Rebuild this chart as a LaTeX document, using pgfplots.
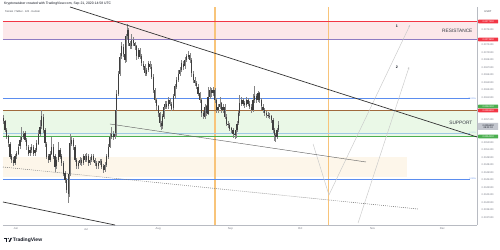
\documentclass[border=0pt]{standalone}
\usepackage{pgfplots}
\pgfplotsset{compat=1.18}
\usepackage{pgfplotstable}
\usepackage{fontspec}
\setmainfont{Liberation Sans}
\usetikzlibrary{arrows.meta}

\definecolor{tvred}{HTML}{F23645}
\definecolor{tvpurple}{HTML}{8E7CC3}
\definecolor{tvblue}{HTML}{5B8DEF}
\definecolor{tvbrown}{HTML}{A0693C}
\definecolor{tvgreen}{HTML}{4CAF50}
\definecolor{lblue}{HTML}{9FC9E6}
\definecolor{pinkband}{HTML}{FCE8EA}
\definecolor{greenband}{HTML}{EAF8E7}
\definecolor{beigeband}{HTML}{FDF6EA}
\definecolor{tvorange}{HTML}{F8C47A}
\definecolor{candle}{HTML}{3F3F3F}
\definecolor{wick}{HTML}{858585}
\definecolor{axgray}{HTML}{B8BBC2}
\definecolor{txtgray}{HTML}{787B86}
\definecolor{boxgray}{HTML}{C4C7CF}
\definecolor{projgray}{HTML}{C9C9C9}
\definecolor{dark}{HTML}{131722}

\pgfplotstableread{
d o h l c
-5.43 578 584 566 571
-4.71 571 574 549 554
-4.00 554 558 536 541
-3.29 541 545 521 527
-2.57 527 530 495 501
-1.86 501 506 488 494
-1.14 494 499 481 487
-0.43 487 506 483 501
0.29 501 512 497 507
1.00 507 526 503 521
1.71 521 540 517 534
2.43 534 560 530 541
3.14 541 552 536 547
3.86 547 551 529 534
4.57 534 538 515 521
5.29 521 525 502 507
6.00 507 520 503 514
6.71 514 526 509 521
7.43 521 525 502 507
8.14 507 519 503 514
8.86 514 533 510 527
9.57 527 553 523 547
10.29 547 575 543 561
11.00 561 594 556 581
11.71 581 586 549 554
12.43 554 558 521 527
13.14 527 531 496 501
13.86 501 505 488 494
14.57 494 512 490 507
15.29 507 540 503 521
16.00 521 525 496 501
16.71 501 505 470 481
17.43 481 499 477 494
18.14 494 530 490 514
18.86 514 518 496 501
19.57 501 505 482 487
20.29 487 492 462 467
21.00 467 472 448 454
21.71 454 458 428 434
22.43 434 440 408 427
22.71 427 472 420 467
23.14 467 547 462 527
23.86 527 540 522 534
24.57 534 538 515 521
25.29 521 524 489 494
26.00 494 498 476 481
26.71 481 492 476 487
27.43 487 500 483 494
28.14 494 498 482 487
28.86 487 506 483 501
29.57 501 505 489 494
30.29 494 507 490 501
31.00 501 505 482 487
31.71 487 499 483 494
32.43 494 506 490 501
33.14 501 505 489 494
33.86 494 498 482 487
34.57 487 491 476 481
35.29 481 492 477 487
36.00 487 496 483 491
36.71 491 495 476 481
37.43 481 485 468 474
38.14 474 489 470 484
38.86 484 506 480 501
39.57 501 526 497 521
40.29 521 547 517 541
41.00 541 560 536 547
41.71 547 552 535 541
42.43 541 553 536 547
42.86 547 600 543 594
43.14 594 633 590 627
43.86 627 673 622 667
44.57 667 707 662 701
45.29 701 730 696 721
46.00 721 725 700 707
46.71 707 712 688 694
47.14 694 746 690 741
47.71 741 766 736 754
48.14 754 758 722 727
48.86 727 732 715 721
49.57 721 745 716 734
50.29 734 740 721 727
51.00 727 731 715 721
51.71 721 725 695 701
52.43 701 719 696 714
53.14 714 718 695 701
53.86 701 705 682 687
54.57 687 692 675 681
55.29 681 685 662 667
56.00 667 679 662 674
56.71 674 692 670 687
57.43 687 691 675 681
58.14 681 685 655 661
58.86 661 665 628 634
59.57 634 638 608 614
60.29 614 618 595 601
61.00 601 605 581 587
61.71 587 591 561 567
62.43 567 572 553 561
62.86 561 586 556 581
63.43 581 606 576 601
63.86 601 613 596 607
64.57 607 611 595 601
65.29 601 620 597 614
66.00 614 618 601 607
66.71 607 611 592 597
67.43 597 626 593 621
68.14 621 646 616 641
68.86 641 660 636 654
69.57 654 673 649 667
70.29 667 680 662 674
71.00 674 693 669 687
71.71 687 692 675 681
72.43 681 699 676 694
73.14 694 706 689 701
73.86 701 712 696 704
74.57 704 708 688 694
75.29 694 698 661 667
76.00 667 671 648 654
76.71 654 659 641 647
77.43 647 652 635 641
78.14 641 645 621 627
78.86 627 631 608 614
79.57 614 618 581 587
80.29 587 592 575 581
81.00 581 606 577 601
81.71 601 605 582 587
82.43 587 640 583 621
83.14 621 640 616 634
83.86 634 638 621 627
84.57 627 640 622 634
85.29 634 638 608 614
86.00 614 618 588 594
86.71 594 606 589 601
87.43 601 620 596 607
88.14 607 611 588 594
88.86 594 606 589 601
89.57 601 605 575 581
90.29 581 585 561 567
91.00 567 572 558 564
91.71 564 568 551 557
92.43 557 561 548 554
93.14 554 558 538 547
93.86 547 551 535 544
94.29 544 559 538 554
94.86 554 572 550 567
95.43 567 592 563 587
96.00 587 625 583 607
96.71 607 620 602 614
97.43 614 618 601 607
98.14 607 612 598 604
98.86 604 619 599 614
99.57 614 618 601 607
100.29 607 611 595 601
101.00 601 605 588 594
101.71 594 626 590 614
102.43 614 642 609 621
103.14 621 626 608 614
103.86 614 632 609 627
104.57 627 631 608 614
105.29 614 618 595 601
106.00 601 605 588 594
106.71 594 598 581 587
107.43 587 592 578 584
108.14 584 590 578 583
108.86 583 587 575 581
109.57 581 585 568 574
110.29 574 578 548 554
111.00 554 558 533 544
111.43 544 548 530 541
112.00 541 559 537 554
112.57 554 572 550 564
}\candles

\begin{document}
\begin{tikzpicture}
\useasboundingbox (0,0) rectangle (500pt,249pt);
\fill[white] (0,0) rectangle (500pt,249pt);
\begin{axis}[
  at={(3pt,24pt)}, anchor=south west,
  scale only axis, width=474pt, height=218pt,
  xmin=-5.58, xmax=197.85, ymin=364, ymax=800,
  clip=false,
  axis x line*=bottom, axis y line*=right,
  axis line style={-, draw=axgray, line width=0.5pt},
  major tick length=0pt,
  /pgf/number format/assume math mode=true,
  ytick={379,394,409,424,439,454,469,484,499,514,529,574,619,634,649,664,679,694,709,724,754},
  yticklabel={0.00\pgfmathprintnumber[fixed,precision=0]{\tick}00},
  yticklabel style={font=\fontsize{2.5}{3}\selectfont, text=txtgray, anchor=west, xshift=1.2pt},
  xtick={0,30,61,92,122,153,183},
  xticklabels={Jun,Jul,Aug,Sep,Oct,Nov,Dec},
  xticklabel style={font=\fontsize{2.8}{3}\selectfont, text=txtgray, yshift=0.5pt},
]
% bands
\fill[pinkband] (axis cs:-5.58,735) rectangle (axis cs:197.85,771);
\fill[greenband] (axis cs:-5.58,541) rectangle (axis cs:197.85,593);
\fill[beigeband] (axis cs:-5.58,460) rectangle (axis cs:167.8,500);
% vertical lines
\addplot[draw=tvorange, line width=1.1pt] coordinates {(85.4,364) (85.4,800)};
\addplot[draw=tvorange, line width=1.1pt] coordinates {(134.3,364) (134.3,800)};
% horizontal levels
\addplot[draw=tvred, line width=0.7pt] coordinates {(-5.58,771) (197.85,771)};
\addplot[draw=tvpurple, line width=1.2pt] coordinates {(-5.58,735) (197.85,735)};
\addplot[draw=tvblue, line width=0.7pt] coordinates {(-5.58,617) (195,617)};
\addplot[draw=tvbrown, line width=1pt] coordinates {(-5.58,593) (197.85,593)};
\addplot[draw=lblue, line width=0.5pt] coordinates {(-5.58,548) (195,548)};
\addplot[draw=tvgreen, line width=1.1pt] coordinates {(-5.58,541) (197.85,541)};
\addplot[draw=tvblue, line width=0.7pt] coordinates {(-5.58,456) (195,456)};
% projection paths
\addplot[draw=projgray, line width=0.45pt, -{Stealth[length=2.2pt,width=1.8pt]}] coordinates {(127.5,526) (134.3,424) (169.1,764)};
\addplot[draw=projgray, line width=0.45pt, -{Stealth[length=2.2pt,width=1.8pt]}] coordinates {(146.8,368) (168.7,680)};
% dotted and channel lines
\addplot[draw=gray, line width=0.55pt, dash pattern=on 0.9pt off 1.1pt] coordinates {(-5.58,480) (172.5,396)};
\addplot[draw=gray!80!black, line width=0.45pt] coordinates {(40.3,566) (150.2,490)};
% candles: wicks and bodies
\addplot[draw=none, mark=none, forget plot,
  error bars/.cd, y dir=both, y explicit, error mark=none,
  error bar style={draw=wick, line width=0.4pt}]
  table[x=d, y expr={(\thisrow{h}+\thisrow{l})/2}, y error expr={(\thisrow{h}-\thisrow{l})/2}] {\candles};
\addplot[draw=none, mark=none, forget plot,
  error bars/.cd, y dir=both, y explicit, error mark=none,
  error bar style={draw=candle, line width=1.15pt}]
  table[x=d, y expr={(\thisrow{o}+\thisrow{c})/2}, y error expr={max(abs(\thisrow{o}-\thisrow{c})/2,0.8)}] {\candles};
% trend lines
\addplot[draw=black!80, line width=0.7pt] coordinates {(23.2,800) (197.85,540)};
\addplot[draw=black!80, line width=0.7pt] coordinates {(-5.58,410) (42.5,364)};
% texts
\node[anchor=east, font=\fontsize{4.8}{5}\selectfont, text=dark!85] at (axis cs:197.4,752) {RESISTANCE};
\node[anchor=east, font=\fontsize{4.8}{5}\selectfont, text=dark!85] at (axis cs:197.4,568) {SUPPORT};
\node[font=\fontsize{3.6}{4}\bfseries\selectfont, text=dark] at (axis cs:163.5,762) {1};
\node[font=\fontsize{3.6}{4}\bfseries\selectfont, text=dark] at (axis cs:163.5,680) {2};
\node[anchor=east, font=\fontsize{2.2}{2.5}\selectfont, text=tvblue, inner sep=0.5pt] at (axis cs:197.6,617) {38.20\%};
\node[anchor=east, font=\fontsize{2.2}{2.5}\selectfont, text=lblue, inner sep=0.5pt] at (axis cs:197.6,548) {0.00\%};
\node[anchor=east, font=\fontsize{2.2}{2.5}\selectfont, text=tvblue, inner sep=0.5pt] at (axis cs:197.6,456) {0.00\%};
% price boxes
\tikzset{pbox/.style={anchor=west, xshift=1pt, inner sep=0pt, minimum width=20pt, minimum height=3.6pt, text=white, font=\fontsize{2.4}{2.6}\selectfont, rounded corners=0.4pt}}
\node[pbox, fill=tvred] at (axis cs:197.85,771) {0.0077100};
\node[pbox, fill=tvred] at (axis cs:197.85,735) {0.0073500};
\node[pbox, fill=tvgreen] at (axis cs:197.85,601) {0.0060100};
\node[pbox, fill=tvred] at (axis cs:197.85,593) {0.0059300};
\node[pbox, fill=boxgray, text=dark, minimum height=7pt, align=center] at (axis cs:197.85,561) {0.0056400\\[-0.4pt]08:01:02};
\node[pbox, fill=tvgreen] at (axis cs:197.85,541) {0.0054100};
\end{axis}
% header
\node[anchor=west, font=\fontsize{3.4}{4}\selectfont, text=dark, inner sep=0pt] at (4pt,245pt) {Kryptonatuber created with TradingView.com, Sep 21, 2020 14:58 UTC};
\node[anchor=west, font=\fontsize{2.6}{3}\selectfont, text=dark!80, inner sep=0pt] at (5pt,237pt) {Telcoin / Tether · 12h · KuCoin};
\node[font=\fontsize{2.6}{3}\selectfont, text=dark!80, inner sep=0pt] at (488pt,237pt) {USDT};
% logo
\fill[dark] (4pt,9.6pt) rectangle (7.2pt,11.2pt);
\fill[dark] (5.6pt,7.2pt) rectangle (7.2pt,11.2pt);
\fill[dark] (8.2pt,10.5pt) circle (0.65pt);
\fill[dark] (8.7pt,7.2pt) -- (10.6pt,11.2pt) -- (12pt,11.2pt) -- (10.1pt,7.2pt) -- cycle;
\node[anchor=west, font=\fontsize{5}{6}\bfseries\selectfont, text=dark, inner sep=0pt] at (12.6pt,9.2pt) {TradingView};
\end{tikzpicture}
\end{document}
